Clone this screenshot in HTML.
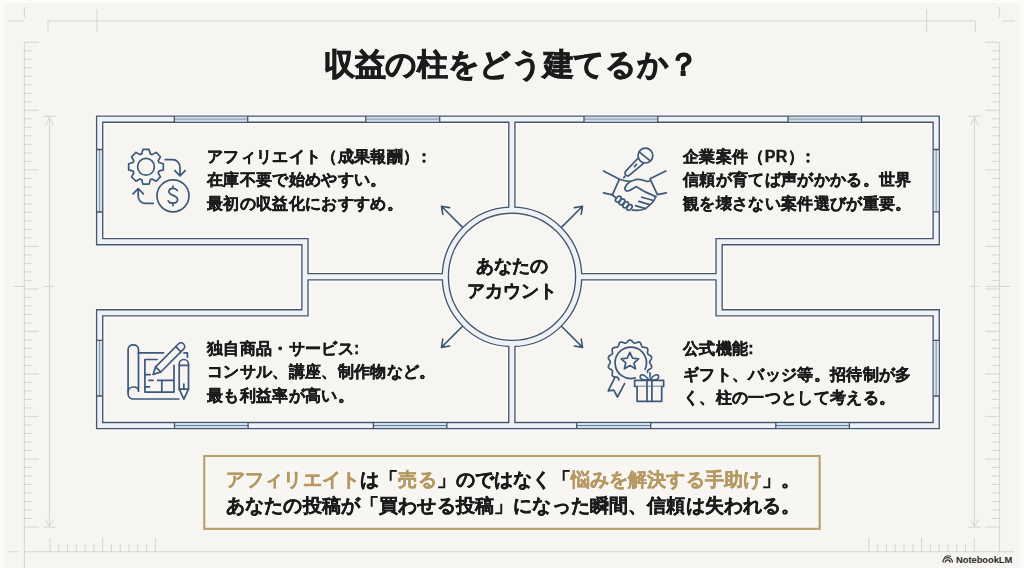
<!DOCTYPE html>
<html lang="ja">
<head>
<meta charset="utf-8">
<style>
html,body{margin:0;padding:0;}
body{width:1024px;height:568px;overflow:hidden;position:relative;background:#f6f5f1;font-family:"Liberation Sans",sans-serif;color:#1b1b1b;}
#edge{position:absolute;left:0;top:0;width:1024px;height:568px;box-sizing:border-box;border-top:3px solid #fbfbfa;border-left:4px solid #fbfbfa;border-right:4px solid #fbfbfa;}
svg{position:absolute;left:0;top:0;}
.t{position:absolute;white-space:nowrap;font-weight:bold;-webkit-text-stroke:0.4px #1b1b1b;will-change:transform;}
.title{left:324px;top:44px;font-size:31px;letter-spacing:-0.33px;-webkit-text-stroke:0.8px #1b1b1b;}
.blk{font-size:16px;letter-spacing:0.34px;line-height:23.3px;}
.ctr{font-size:18px;line-height:24.5px;text-align:center;width:200px;left:412px;top:253.6px;}
.call{font-size:19px;letter-spacing:0.15px;line-height:25.6px;left:226px;top:466.6px;}
.gold{color:#b59862;-webkit-text-stroke:0.4px #b59862;}
.nlm{position:absolute;left:956px;top:553.6px;font-size:9.4px;line-height:11px;font-weight:bold;color:#2a2a2a;letter-spacing:-0.05px;}
</style>
</head>
<body>
<div id="edge"></div>
<svg width="1024" height="568" viewBox="0 0 1024 568">
  <g stroke="#d9d8d3" stroke-width="1.1" fill="none">
    <path d="M24.4 7V17.5M9 21H23"/>
    <path d="M48 32V21H975.4V32M97 9V32M926.6 9V32"/>
    <path d="M999.5 7V17.5M1002 21H1014.7"/>
    <path d="M24.4 42.3V568M9 551.8H19M24.4 551.8H1014M999.5 42.3V551.8"/>
    <path d="M49.5 116.3V527M43.4 116.4H55.8M43.4 527.3H55.6M45.7 125L49.5 117.4L53.3 125M45.6 519.8L49.5 526.4L53.4 519.8"/>
    <path d="M974.4 116.3V527M968 116.3H981M968 527.3H981M970.6 125L974.4 117.4L978.2 125M970.5 519.8L974.4 526.4L978.3 519.8"/>
  </g>
  <path d="M24.4 42.3H38.9M999.5 42.3H985M24.4 50.8H31.9M999.5 50.8H992M24.4 59.31H31.9M999.5 59.31H992M24.4 67.81H31.9M999.5 67.81H992M24.4 76.31H31.9M999.5 76.31H992M24.4 84.82H31.9M999.5 84.82H992M24.4 93.32H31.9M999.5 93.32H992M24.4 101.82H31.9M999.5 101.82H992M24.4 110.33H38.9M999.5 110.33H985M24.4 118.83H31.9M999.5 118.83H992M24.4 127.34H31.9M999.5 127.34H992M24.4 135.84H31.9M999.5 135.84H992M24.4 144.34H31.9M999.5 144.34H992M24.4 152.85H31.9M999.5 152.85H992M24.4 161.35H31.9M999.5 161.35H992M24.4 169.85H38.9M999.5 169.85H985M24.4 178.36H31.9M999.5 178.36H992M24.4 186.86H31.9M999.5 186.86H992M24.4 195.36H31.9M999.5 195.36H992M24.4 203.87H31.9M999.5 203.87H992M24.4 212.37H31.9M999.5 212.37H992M24.4 220.87H31.9M999.5 220.87H992M24.4 229.38H31.9M999.5 229.38H992M24.4 237.88H31.9M999.5 237.88H992M24.4 246.38H38.9M999.5 246.38H985M24.4 254.89H31.9M999.5 254.89H992M24.4 263.39H31.9M999.5 263.39H992M24.4 271.89H31.9M999.5 271.89H992M24.4 280.4H31.9M999.5 280.4H992M24.4 288.9H38.9M999.5 288.9H985M24.4 297.41H31.9M999.5 297.41H992M24.4 305.91H31.9M999.5 305.91H992M24.4 314.41H31.9M999.5 314.41H992M24.4 322.92H31.9M999.5 322.92H992M24.4 331.42H38.9M999.5 331.42H985M24.4 339.92H31.9M999.5 339.92H992M24.4 348.43H31.9M999.5 348.43H992M24.4 356.93H31.9M999.5 356.93H992M24.4 365.43H31.9M999.5 365.43H992M24.4 373.94H38.9M999.5 373.94H985M24.4 382.44H31.9M999.5 382.44H992M24.4 390.94H31.9M999.5 390.94H992M24.4 399.45H31.9M999.5 399.45H992M24.4 407.95H31.9M999.5 407.95H992M24.4 416.45H38.9M999.5 416.45H985M24.4 424.96H31.9M999.5 424.96H992M24.4 433.46H31.9M999.5 433.46H992M24.4 441.96H31.9M999.5 441.96H992M24.4 450.47H31.9M999.5 450.47H992M24.4 458.97H38.9M999.5 458.97H985M24.4 467.48H31.9M999.5 467.48H992M24.4 475.98H31.9M999.5 475.98H992M24.4 484.48H31.9M999.5 484.48H992M24.4 492.99H31.9M999.5 492.99H992M24.4 501.49H31.9M999.5 501.49H992M24.4 509.99H31.9M999.5 509.99H992M24.4 518.5H31.9M999.5 518.5H992M24.4 527H38.9M999.5 527H985M13.2 286.4H24.4M44 286.4H54M985.8 286.4H1010.5M969.5 286.4H979.5M50 551.8V537.8M868.9 551.8V537.8M58.78 551.8V544.1M877.68 551.8V544.1M67.56 551.8V544.1M886.46 551.8V544.1M76.34 551.8V544.1M895.24 551.8V544.1M85.12 551.8V544.1M904.02 551.8V544.1M93.9 551.8V544.1M912.8 551.8V544.1M102.68 551.8V537.8M921.58 551.8V537.8M111.46 551.8V544.1M930.36 551.8V544.1M120.24 551.8V544.1M939.14 551.8V544.1M129.02 551.8V544.1M947.92 551.8V544.1M137.8 551.8V544.1M956.7 551.8V544.1M146.58 551.8V544.1M965.48 551.8V544.1M155.36 551.8V537.8M974.26 551.8V537.8" stroke="#d6d5d0" stroke-width="1" fill="none"/>
  <g fill="none" stroke-linejoin="miter" stroke-linecap="butt">
    <g stroke="#f9fbfc" stroke-width="10.5">
      <path d="M99.65 119.17H936.2V241.7H719.1V312.8H936.2V425.6H99.65V312.8H304.95V241.7H99.65Z"/>
      <path d="M511.85 119.17V210.65M511.85 342.95V425.6M304.95 276.75H445.85M578.15 276.75H719.1"/>
      <circle cx="512" cy="276.8" r="66.65"/>
    </g>
    <g stroke="#46576b" stroke-width="7.5">
      <path d="M99.65 119.17H936.2V241.7H719.1V312.8H936.2V425.6H99.65V312.8H304.95V241.7H99.65Z"/>
      <path d="M511.85 119.17V210.65M511.85 342.95V425.6M304.95 276.75H445.85M578.15 276.75H719.1"/>
      <circle cx="512" cy="276.8" r="66.65"/>
    </g>
    <g stroke="#eef2f7" stroke-width="4.8">
      <path d="M99.65 119.17H936.2V241.7H719.1V312.8H936.2V425.6H99.65V312.8H304.95V241.7H99.65Z"/>
      <path d="M511.85 119.17V210.65M511.85 342.95V425.6M304.95 276.75H445.85M578.15 276.75H719.1"/>
      <circle cx="512" cy="276.8" r="66.65"/>
    </g>
  </g>
  <g fill="none">
<rect x="174.3" y="116.77" width="73.4" height="4.8" fill="#cdd9e4"/>
<path d="M174.3 119.17H247.7" stroke="#8b9fb3" stroke-width="1"/>
<path d="M174.3 116.09v6.15M247.7 116.09v6.15" stroke="#46576b" stroke-width="1.3"/>
<rect x="365.8" y="116.77" width="73.9" height="4.8" fill="#cdd9e4"/>
<path d="M365.8 119.17H439.7" stroke="#8b9fb3" stroke-width="1"/>
<path d="M365.8 116.09v6.15M439.7 116.09v6.15" stroke="#46576b" stroke-width="1.3"/>
<rect x="584" y="116.77" width="73.8" height="4.8" fill="#cdd9e4"/>
<path d="M584 119.17H657.8" stroke="#8b9fb3" stroke-width="1"/>
<path d="M584 116.09v6.15M657.8 116.09v6.15" stroke="#46576b" stroke-width="1.3"/>
<rect x="788" y="116.77" width="73.5" height="4.8" fill="#cdd9e4"/>
<path d="M788 119.17H861.5" stroke="#8b9fb3" stroke-width="1"/>
<path d="M788 116.09v6.15M861.5 116.09v6.15" stroke="#46576b" stroke-width="1.3"/>
<rect x="174.5" y="423.2" width="73.6" height="4.8" fill="#d6e3ef"/>
<path d="M174.5 425.6H248.1" stroke="#62788f" stroke-width="1"/>
<path d="M174.5 422.53v6.15M248.1 422.53v6.15" stroke="#46576b" stroke-width="1.3"/>
<rect x="373.4" y="423.2" width="73.5" height="4.8" fill="#d6e3ef"/>
<path d="M373.4 425.6H446.9" stroke="#62788f" stroke-width="1"/>
<path d="M373.4 422.53v6.15M446.9 422.53v6.15" stroke="#46576b" stroke-width="1.3"/>
<rect x="576.7" y="423.2" width="74" height="4.8" fill="#d6e3ef"/>
<path d="M576.7 425.6H650.7" stroke="#62788f" stroke-width="1"/>
<path d="M576.7 422.53v6.15M650.7 422.53v6.15" stroke="#46576b" stroke-width="1.3"/>
<rect x="775.8" y="423.2" width="73.6" height="4.8" fill="#d6e3ef"/>
<path d="M775.8 425.6H849.4" stroke="#62788f" stroke-width="1"/>
<path d="M775.8 422.53v6.15M849.4 422.53v6.15" stroke="#46576b" stroke-width="1.3"/>
<rect x="97.25" y="149.5" width="4.8" height="62.5" fill="#d9e3ec"/>
<path d="M99.65 149.5V212" stroke="#8497a9" stroke-width="1"/>
<path d="M96.58 149.5h6.15M96.58 212h6.15" stroke="#46576b" stroke-width="1.3"/>
<rect x="97.25" y="340.3" width="4.8" height="55.7" fill="#d9e3ec"/>
<path d="M99.65 340.3V396" stroke="#8497a9" stroke-width="1"/>
<path d="M96.58 340.3h6.15M96.58 396h6.15" stroke="#46576b" stroke-width="1.3"/>
<rect x="933.8" y="149.5" width="4.8" height="62.3" fill="#d9e3ec"/>
<path d="M936.2 149.5V211.8" stroke="#8497a9" stroke-width="1"/>
<path d="M933.12 149.5h6.15M933.12 211.8h6.15" stroke="#46576b" stroke-width="1.3"/>
<rect x="933.8" y="340.3" width="4.8" height="55.7" fill="#d9e3ec"/>
<path d="M936.2 340.3V396" stroke="#8497a9" stroke-width="1"/>
<path d="M933.12 340.3h6.15M933.12 396h6.15" stroke="#46576b" stroke-width="1.3"/>
  </g>
  <path d="M462.29 227.09L441.43 206.23M442.8 214.42L441.43 206.23L449.62 207.6M561.71 227.09L582.57 206.23M574.38 207.6L582.57 206.23L581.2 214.42M462.29 326.51L441.43 347.37M449.62 346L441.43 347.37L442.8 339.18M561.71 326.51L582.57 347.37M581.2 339.18L582.57 347.37L574.38 346" stroke="#3f5670" stroke-width="1.6" fill="none" stroke-linecap="round" stroke-linejoin="round"/>
  <g stroke="#3d587a" stroke-width="1.7" fill="none" stroke-linecap="round" stroke-linejoin="round">
<path d="M141.68 153.91L142.92 149.47L149.08 149.47L150.32 153.91A13.6 13.6 0 0 1 152.06 154.62L156.07 152.37L160.43 156.73L158.18 160.74A13.6 13.6 0 0 1 158.89 162.48L163.33 163.72L163.33 169.88L158.89 171.12A13.6 13.6 0 0 1 158.18 172.86L160.43 176.87L156.07 181.23L152.06 178.98A13.6 13.6 0 0 1 150.32 179.69L149.08 184.13L142.92 184.13L141.68 179.69A13.6 13.6 0 0 1 139.94 178.98L135.93 181.23L131.57 176.87L133.82 172.86A13.6 13.6 0 0 1 133.11 171.12L128.67 169.88L128.67 163.72L133.11 162.48A13.6 13.6 0 0 1 133.82 160.74L131.57 156.73L135.93 152.37L139.94 154.62A13.6 13.6 0 0 1 141.68 153.91Z"/><circle cx="146" cy="166.8" r="8.4"/><circle cx="173" cy="195.8" r="16"/><path d="M177.4 190.6C176.6 189.2 175 188.4 173.2 188.4C170.6 188.4 168.9 189.8 168.9 191.8C168.9 196.2 177.6 194.6 177.6 199.6C177.6 201.8 175.6 203.2 173 203.2C170.8 203.2 169 202.4 168.2 200.8M173 186.2V188.4M173 203.2V205.6"/><path d="M165.2 159.7H172.4C176.8 159.7 180 163 180 167.4V175.6M174.8 170.6L180 175.8L185.2 170.6"/><path d="M153.2 203.4H145.6C141.4 203.4 138.2 200.2 138.2 196V188.8M133 193.8L138.2 188.6L143.4 193.8"/>
<circle cx="645.4" cy="155.6" r="7.4"/><path d="M639.2 151.8L650 160.6"/><path d="M638.2 158L625.6 171.4C624.6 172.6 624.8 174.4 626 175.2C627.2 176 628.8 175.8 629.8 174.8L643.2 163.6"/><path d="M624.9 176.4L623.8 177.6M634.4 166.6L636.6 164.4"/><path d="M603.5 171.1L619.4 179.2L612.4 194.9L603.5 192.8M665.8 171.1L650 178.8L657.4 194.6L666.2 192.8"/><path d="M619.4 179.2C623 180.4 626.4 181.2 629.4 181.4C632 181.4 634.4 179.6 637.4 179.4C640.8 179.2 643.6 180.4 646.2 181.2C647.6 181.6 648.8 181.4 650 181"/><path d="M630.4 181.4C628 183 625.6 185.4 624.9 188C624.4 190.2 626 191.4 628 191C630.6 190.4 633.4 188.2 636.4 186.6C638.6 188 641.6 189.6 644.6 191.6L655.8 196.6"/><path d="M655.8 196.6C654.8 198.8 654.2 200.4 652.8 202C651 204 648.6 206.6 645.8 208.4C643.6 209.8 640.6 210.4 637.4 210.4L632.4 210.2"/><path d="M641.8 197.2L652.6 200.2M638.8 201.4L649.6 204.6M635.6 205.6L645.4 208.6"/><path d="M612.4 195L615.4 197.4"/><ellipse cx="618.3" cy="199.1" rx="3.4" ry="2.2" transform="rotate(-48 618.3 199.1)"/><ellipse cx="621.9" cy="201.9" rx="3.4" ry="2.2" transform="rotate(-48 621.9 201.9)"/><ellipse cx="625.7" cy="204.8" rx="3.4" ry="2.2" transform="rotate(-48 625.7 204.8)"/><ellipse cx="629.5" cy="207.5" rx="3.2" ry="2.1" transform="rotate(-48 629.5 207.5)"/>
<path d="M138.5 353V349.4C138.5 346.6 136.2 344.8 133.3 344.8C130.4 344.8 128.1 346.6 128.1 349.4V394C128.1 397 130.4 399 133.4 399H178.7"/><path d="M138.5 353V391.2C138.5 388.6 136.4 387 133.4 387C130.4 387 128.1 389 128.1 392"/><path d="M138.5 352.9H163.5M183.9 352.9H187.4V357.2"/><path d="M157.1 359.5H144.9V392.1H174V365.3M144.9 374.6H150.2M149 380.4H153M157.7 380.4H174M161.8 380.4V392.1M144.9 386.8H149.6"/><path d="M153.1 374.4L155.6 366.8L178.4 344C179.8 342.6 182.2 342.6 183.6 344C185 345.4 185 347.8 183.6 349.2L160.8 372Z"/><path d="M155.6 366.8L160.8 372M175.8 346.6L181 351.8"/><path d="M179.2 389.2V364.2C179.2 361.4 181.2 359.5 183.85 359.5C186.5 359.5 188.5 361.4 188.5 364.2V389.2L183.85 399.2Z"/><path d="M179.2 365.3H188.5M179.2 389.2H188.5M183.85 384V389.2"/>
<path d="M647.56 372.34L647.52 371.86L647.52 371.43L647.59 371.03L647.73 370.67L647.95 370.35L648.24 370.06L648.6 369.78L649.01 369.52L649.46 369.26L649.91 368.99L650.35 368.7L650.76 368.39L651.11 368.05L651.38 367.68L651.55 367.28L651.64 366.85L651.62 366.41L651.51 365.95L651.33 365.5L651.08 365.04L650.8 364.59L650.51 364.15L650.23 363.73L649.98 363.32L649.8 362.92L649.68 362.53L649.65 362.15L649.7 361.76L649.84 361.37L650.04 360.97L650.3 360.56L650.59 360.13L650.88 359.69L651.15 359.24L651.38 358.78L651.55 358.32L651.63 357.87L651.62 357.43L651.52 357.01L651.31 356.62L651.02 356.26L650.66 355.92L650.24 355.62L649.79 355.33L649.33 355.07L648.9 354.81L648.5 354.54L648.16 354.27L647.88 353.97L647.69 353.64L647.57 353.27L647.52 352.86L647.52 352.41L647.58 351.93L647.65 351.42L647.72 350.9L647.77 350.37L647.78 349.86L647.74 349.37L647.62 348.92L647.42 348.53L647.14 348.2L646.79 347.93L646.37 347.73L645.9 347.59L645.39 347.49L644.87 347.43L644.34 347.39L643.83 347.34L643.36 347.28L642.93 347.18L642.55 347.03L642.23 346.82L641.96 346.54L641.73 346.2L641.55 345.79L641.38 345.33L641.23 344.85L641.07 344.34L640.88 343.84L640.67 343.37L640.42 342.96L640.12 342.6L639.78 342.33L639.38 342.15L638.95 342.06L638.49 342.06L638 342.13L637.5 342.26L637 342.44L636.51 342.63L636.03 342.81L635.57 342.96L635.14 343.06L634.74 343.09L634.35 343.04L633.99 342.91L633.64 342.7L633.29 342.41L632.95 342.08L632.6 341.7L632.23 341.32L631.85 340.95L631.46 340.62L631.05 340.35L630.63 340.16L630.2 340.06L629.77 340.06L629.34 340.17L628.92 340.36L628.51 340.64L628.12 340.97L627.74 341.35L627.38 341.73L627.03 342.1L626.68 342.44L626.34 342.71L625.98 342.92L625.62 343.04L625.23 343.09L624.83 343.05L624.39 342.95L623.94 342.79L623.46 342.61L622.96 342.42L622.46 342.25L621.96 342.12L621.48 342.06L621.01 342.07L620.59 342.16L620.2 342.35L619.85 342.63L619.56 342.98L619.31 343.41L619.1 343.88L618.92 344.38L618.76 344.88L618.61 345.37L618.44 345.82L618.25 346.22L618.02 346.56L617.75 346.84L617.42 347.04L617.04 347.19L616.61 347.28L616.13 347.35L615.62 347.39L615.1 347.43L614.57 347.5L614.06 347.6L613.59 347.74L613.18 347.95L612.83 348.22L612.56 348.56L612.37 348.96L612.26 349.4L612.22 349.89L612.23 350.41L612.28 350.94L612.36 351.46L612.43 351.97L612.48 352.45L612.48 352.89L612.43 353.3L612.3 353.66L612.1 353.99L611.82 354.29L611.47 354.56L611.07 354.83L610.63 355.09L610.18 355.35L609.73 355.64L609.31 355.95L608.96 356.28L608.67 356.65L608.47 357.04L608.37 357.46L608.37 357.9L608.46 358.36L608.63 358.82L608.87 359.27L609.14 359.73L609.44 360.17L609.72 360.59L609.97 361L610.17 361.4L610.3 361.79L610.35 362.18L610.31 362.56L610.19 362.95L610 363.35L609.75 363.76L609.47 364.18L609.18 364.62L608.9 365.07L608.66 365.53L608.48 365.99L608.38 366.44L608.37 366.88L608.46 367.31L608.64 367.7L608.92 368.07L609.27 368.41L609.68 368.72L610.12 369.01L610.58 369.28L611.02 369.54L611.43 369.8L611.78 370.08L612.07 370.37L612.28 370.7L612.42 371.06L612.48 371.46L612.48 371.9L612.44 372.37L612.37 372.88L612.29 373.4L612.23 373.93L612.21 374.45L612.25 374.94L612.35 375.39L612.54 375.8L612.8 376.14L613.13 376.42L613.54 376.63L614 376.79L614.51 376.89L615.03 376.96L615.56 377.01L616.07 377.05L616.55 377.11L616.99 377.2L617.38 377.34L617.71 377.54L617.99 377.8L618.22 378.13L618.42 378.53L618.59 378.97L618.74 379.46L618.9 379.96"/><path d="M645.1 369.3A15.7 15.7 0 1 0 635.2 377.9"/><path d="M629.9 352.4L632.5 358.2L638.6 358.8L634 362.8L635.4 368.8L629.9 365.6L624.4 368.8L625.8 362.8L621.2 358.8L627.3 358.2Z"/><path d="M614.9 377.3L608.2 390.8L613.8 390.2L617.4 397L624.6 383.6"/><path d="M650 372.8V377"/><g fill="#f6f5f1"><path d="M634.6 380.3H663.6V386.5H634.6Z"/><path d="M637.1 386.5V401.3H661.7V386.5"/></g><path d="M647 380.3V401.3M651.9 380.3V401.3"/><path d="M649.4 380.2C647 377.4 644.2 374.4 641.8 374.8C639.8 375.2 639.6 377.8 641.4 379.2C642.6 380 644.6 380.2 649.4 380.2C654.2 380.2 656.2 380 657.4 379.2C659.2 377.8 659 375.2 657 374.8C654.6 374.4 651.8 377.4 649.4 380.2Z"/>
  </g>
  <rect x="204.25" y="456" width="615.4" height="72.85" fill="#f7f6f2" stroke="#b89d6e" stroke-width="2.1"/>
  <g fill="none" stroke="#2e2e2e" stroke-width="1.3">
    <path d="M942.9 562.4A4.75 4.75 0 0 1 952.4 562.4M945.2 562.4A2.45 2.45 0 0 1 950.1 562.4"/>
    <path d="M943.6 558.2A5.6 5.6 0 0 1 951 556.6" stroke-width="1"/>
  </g>
</svg>

<div class="t title">収益の柱をどう建てるか？</div>

<div class="t blk" style="left:207px;top:145px;">アフィリエイト（成果報酬）<span style="margin-left:-3.6px">：</span><br>在庫不要で始めやすい。<br>最初の収益化におすすめ。</div>
<div class="t blk" style="left:683px;top:145px;">企業案件（PR）<span style="margin-left:-4.4px">：</span><br>信頼が育てば声がかかる。世界<br>観を壊さない案件選びが重要。</div>
<div class="t blk" style="left:207px;top:337px;">独自商品・サービス:<br>コンサル、講座、制作物など。<br>最も利益率が高い。</div>
<div class="t blk" style="left:683px;top:337px;"><div style="margin-bottom:2.6px">公式機能:</div>ギフト、バッジ等。招待制が多<br>く、柱の一つとして考える。</div>

<div class="t ctr">あなたの<br>アカウント</div>

<div class="t call"><span class="gold">アフィリエイト</span>は「<span class="gold">売る</span>」のではなく「<span class="gold">悩みを解決する手助け</span>」。<br>あなたの投稿が「買わせる投稿」になった瞬間、信頼は失われる。</div>

<div class="nlm">NotebookLM</div>
</body>
</html>
